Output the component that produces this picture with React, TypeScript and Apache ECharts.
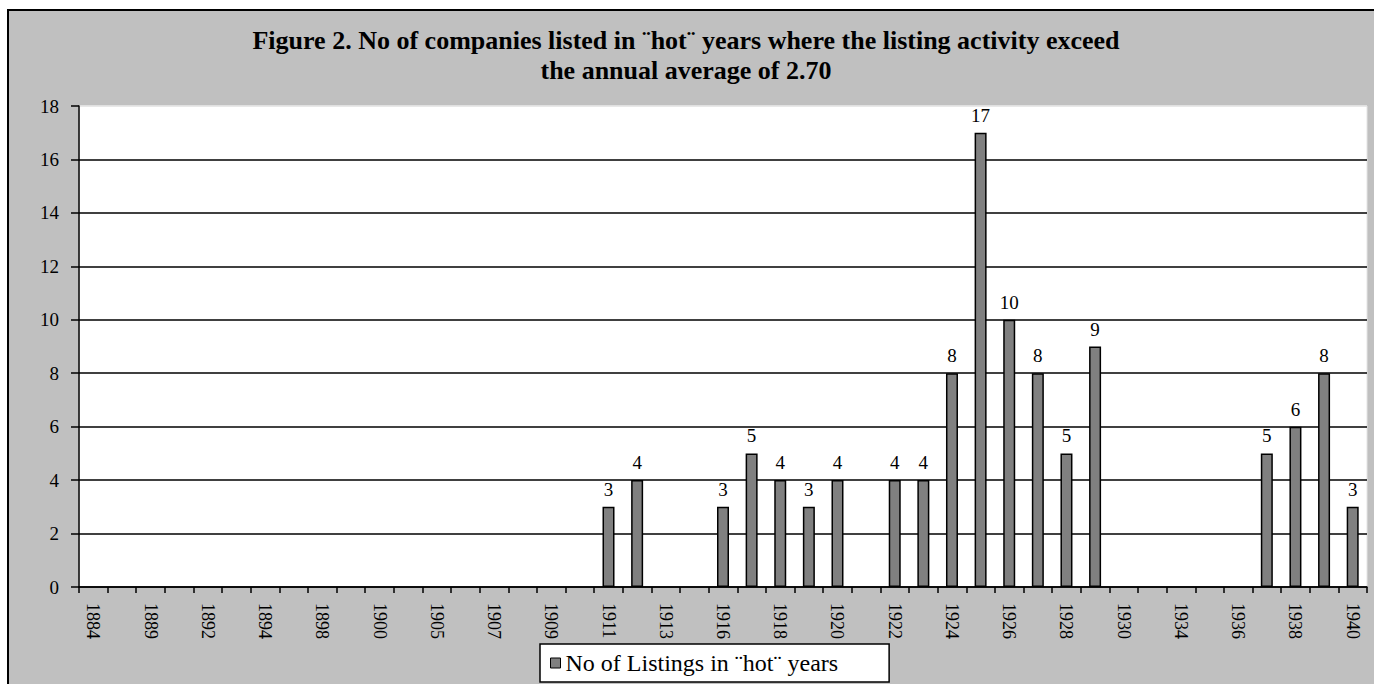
import React, { useEffect, useRef } from "react";
import * as echarts from "echarts";

const years: string[] = [
  "1884", "1887", "1889", "1891", "1892", "1893", "1894", "1896", "1898", "1899",
  "1900", "1903", "1905", "1906", "1907", "1908", "1909", "1910", "1911", "1912",
  "1913", "1915", "1916", "1917", "1918", "1919", "1920", "1921", "1922", "1923",
  "1924", "1925", "1926", "1927", "1928", "1929", "1930", "1932", "1934", "1935",
  "1936", "1937", "1938", "1939", "1940",
];

const listings: (number | null)[] = [
  null, null, null, null, null, null, null, null, null, null,
  null, null, null, null, null, null, null, null, 3, 4,
  null, null, 3, 5, 4, 3, 4, null, 4, 4,
  8, 17, 10, 8, 5, 9, null, null, null, null,
  null, 5, 6, 8, 3,
];

const yTicks = { min: 0, max: 18, interval: 2 };

const titleText =
  "Figure 2. No of companies listed in \u00A8hot\u00A8 years where the listing activity exceed\nthe annual average of 2.70";
const seriesName = "No of Listings in \u00A8hot\u00A8 years";

const FONT = "'Liberation Serif', 'Times New Roman', serif";

export default function App() {
  const ref = useRef<HTMLDivElement>(null);
  useEffect(() => {
    if (!ref.current) return;
    const chart = echarts.init(ref.current, undefined, { renderer: "svg" });
    const gridColors: string[] = [];
    for (let v = yTicks.min; v <= yTicks.max; v += yTicks.interval) {
      gridColors.push(v === yTicks.max ? "#e4e4e4" : "#000000");
    }
    chart.setOption({
      animation: false,
      backgroundColor: "#ffffff",
      textStyle: { fontFamily: FONT },
      graphic: [
        {
          type: "rect",
          z: -100,
          shape: { x: 8, y: 10, width: 1400, height: 700 },
          style: { fill: "#c0c0c0", stroke: "#000000", lineWidth: 2 },
        },
      ],
      title: {
        text: titleText,
        left: 686,
        top: 25,
        padding: 0,
        textAlign: "center",
        textStyle: {
          fontFamily: FONT,
          fontWeight: "bold",
          fontSize: 26,
          lineHeight: 30,
          color: "#000000",
        },
      },
      legend: {
        left: 540,
        top: 644,
        padding: [7, 51, 7, 10],
        backgroundColor: "#ffffff",
        borderColor: "#000000",
        borderWidth: 1.5,
        borderRadius: 0,
        itemWidth: 10,
        itemHeight: 10,
        itemGap: 5,
        icon: "rect",
        textStyle: { fontFamily: FONT, fontSize: 24, color: "#000000" },
        data: [
          {
            name: seriesName,
            itemStyle: { color: "#808080", borderColor: "#000000", borderWidth: 1 },
          },
        ],
      },
      grid: {
        left: 79,
        right: 7,
        top: 106,
        bottom: 97,
        show: true,
        backgroundColor: "#ffffff",
        borderColor: "#e4e4e4",
        borderWidth: 1,
      },
      xAxis: {
        type: "category",
        data: years,
        boundaryGap: true,
        axisLine: { show: true, lineStyle: { color: "#000000", width: 1.5 } },
        axisTick: { show: true, interval: 0, length: 6, lineStyle: { color: "#000000", width: 1.5 } },
        axisLabel: {
          interval: 1,
          rotate: -90,
          margin: 16,
          fontFamily: FONT,
          fontSize: 18,
          color: "#000000",
        },
        splitLine: { show: false },
      },
      yAxis: {
        type: "value",
        min: yTicks.min,
        max: yTicks.max,
        interval: yTicks.interval,
        axisLine: { show: true, lineStyle: { color: "#000000", width: 1.5 } },
        axisTick: { show: true, length: 8, lineStyle: { color: "#000000", width: 1.5 } },
        axisLabel: { margin: 20, fontFamily: FONT, fontSize: 19, color: "#000000" },
        splitLine: { show: true, lineStyle: { color: gridColors, width: 1.5 } },
      },
      series: [
        {
          name: seriesName,
          type: "bar",
          data: listings,
          barWidth: 12,
          itemStyle: { color: "#808080", borderColor: "#000000", borderWidth: 1.5 },
          label: {
            show: true,
            position: "top",
            distance: 8,
            fontFamily: FONT,
            fontSize: 19,
            color: "#000000",
          },
        },
      ],
    });
    return () => chart.dispose();
  }, []);
  return (
    <div
      ref={ref}
      style={{ position: "fixed", left: 0, top: 0, width: 1374, height: 684 }}
    />
  );
}
